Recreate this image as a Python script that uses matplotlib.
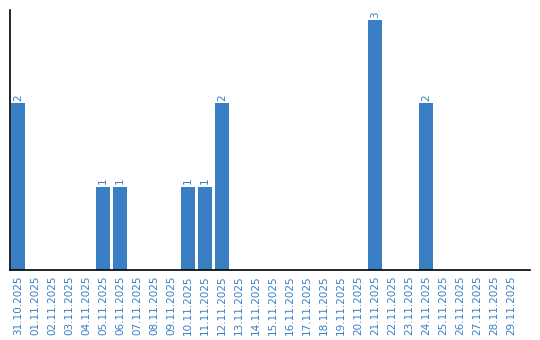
import numpy as np
import pandas as pd
import matplotlib
matplotlib.use("Agg")
import matplotlib.pyplot as plt

dates = pd.date_range("2025-10-31", "2025-11-29", freq="D")
labels = [d.strftime("%d.%m.%Y") for d in dates]
counts = [2, 0, 0, 0, 0, 1, 1, 0, 0, 0,
          1, 1, 2, 0, 0, 0, 0, 0, 0, 0,
          0, 3, 0, 0, 2, 0, 0, 0, 0, 0]

blue = "#3a7ec4"
fig = plt.figure(figsize=(5.4, 3.4), dpi=100)
ax = fig.add_axes([10/540, 70/340, 520/540, 260/340])

x = np.arange(len(counts))
ax.bar(x, counts, width=14/17, color=blue)
for xi, c in zip(x, counts):
    if c > 0:
        ax.text(xi, c + 0.03, str(c), rotation=90, ha="center", va="bottom",
                color=blue, fontsize=7.5)

ax.set_xlim(-0.47, len(counts) - 1 + 1.12)
ax.set_ylim(0, 3.12)
ax.set_xticks(x)
ax.set_xticklabels(labels, rotation=90, color=blue, fontsize=7.5)
ax.tick_params(axis="x", length=0, pad=4)
ax.set_yticks([])
for s in ["top", "right"]:
    ax.spines[s].set_visible(False)
for s in ["left", "bottom"]:
    ax.spines[s].set_color("black")
    ax.spines[s].set_linewidth(1.2)

fig.savefig("out.png", dpi=100)
